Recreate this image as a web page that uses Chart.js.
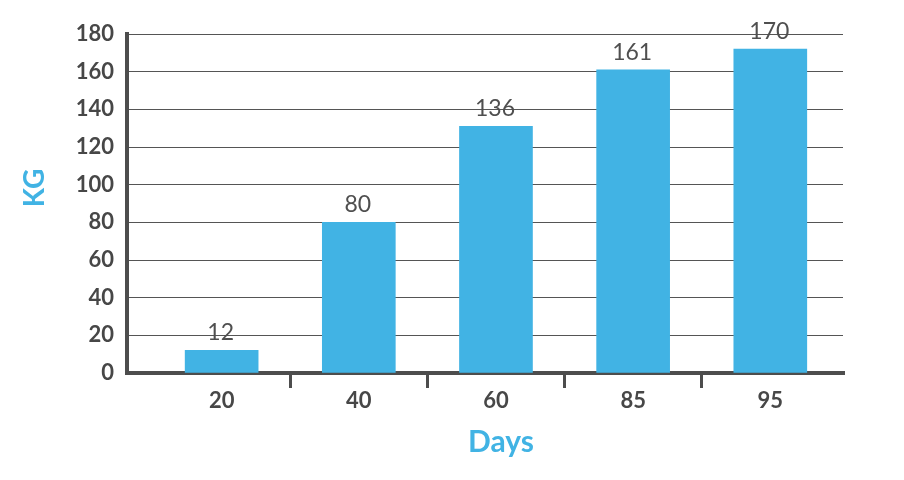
<!DOCTYPE html>
<html>
<head>
<meta charset="utf-8">
<title>KG by Days</title>
<script src="https://cdn.jsdelivr.net/npm/chart.js@4/dist/chart.umd.min.js"></script>
<style>
    body { margin: 0; background: #fff; }
    #chart-box { width: 904px; height: 480px; }
</style>
</head>
<body>
<div id="chart-box"><canvas id="kg-chart" width="904" height="480"></canvas></div>
<script>
// Data
const days = ['20', '40', '60', '85', '95'];
const barValues = [12, 80, 131, 161, 172];          // bar heights as drawn
const valueLabels = ['12', '80', '136', '161', '170']; // numbers printed above bars
const yTicks = [0, 20, 40, 60, 80, 100, 120, 140, 160, 180];

const BAR_BLUE = '#41b3e4';
const TEXT_DARK = '#474747';
const AXIS_DARK = '#4d4d4d';

// labels on top of bars (no datalabels plugin offline)
const barLabels = {
    id: 'barLabels',
    afterDatasetsDraw(chart) {
        const ctx = chart.ctx;
        const meta = chart.getDatasetMeta(0);
        ctx.save();
        ctx.fillStyle = '#4f4f4f';
        ctx.font = '400 23px Lato';
        ctx.textAlign = 'center';
        ctx.textBaseline = 'alphabetic';
        meta.data.forEach((bar, i) => {
            ctx.fillText(valueLabels[i], bar.x - 1, bar.y - 10);
        });
        ctx.restore();
    }
};

// axis titles, placed like the reference (not centred on the plot)
const axisTitles = {
    id: 'axisTitles',
    afterDraw(chart) {
        const { ctx, chartArea, scales } = chart;
        ctx.save();
        ctx.fillStyle = BAR_BLUE;
        ctx.textAlign = 'center';
        ctx.font = 'bold 30px Lato';
        ctx.textBaseline = 'alphabetic';
        ctx.fillText('Days', scales.x.getPixelForValue(2) + 5, chartArea.bottom + 79);

        ctx.translate(35, chartArea.top + 154);
        ctx.rotate(-Math.PI / 2);
        ctx.font = 'bold 28px Lato';
        ctx.textBaseline = 'middle';
        ctx.fillText('KG', 0, 0);
        ctx.restore();
    }
};

const points = barValues.map((v, i) => ({ x: i, y: v }));

new Chart(document.getElementById('kg-chart'), {
    type: 'bar',
    data: {
        datasets: [{
            data: points,
            backgroundColor: BAR_BLUE,
            barThickness: 73
        }]
    },
    plugins: [barLabels, axisTitles],
    options: {
        responsive: false,
        animation: false,
        devicePixelRatio: 1,
        layout: { padding: { top: 34, right: 61, left: 0, bottom: 0 } },
        plugins: {
            legend: { display: false },
            tooltip: { enabled: false }
        },
        scales: {
            x: {
                type: 'linear',
                min: -0.69,
                max: 4.53,
                offset: false,
                afterFit: (scale) => { scale.height = 107; },
                afterBuildTicks: (scale) => {
                    // category centres get labels, half steps get the little tick marks
                    const t = [];
                    days.forEach((d, i) => {
                        t.push({ value: i });
                        if (i < days.length - 1) t.push({ value: i + 0.5 });
                    });
                    scale.ticks = t;
                },
                ticks: {
                    autoSkip: false,
                    maxRotation: 0,
                    padding: 0,
                    color: TEXT_DARK,
                    font: { family: 'Lato', size: 22, weight: 'bold' },
                    callback: (val) => Number.isInteger(val) ? days[val] : ''
                },
                grid: {
                    offset: false,
                    drawOnChartArea: false,
                    tickLength: 15,
                    lineWidth: 3,
                    color: (ctx) => (ctx.tick && !Number.isInteger(ctx.tick.value)) ? AXIS_DARK : 'rgba(0,0,0,0)'
                },
                border: { display: true, width: 4, color: AXIS_DARK }
            },
            y: {
                min: 0,
                max: 180,
                afterFit: (scale) => { scale.width = 127; },
                afterBuildTicks: (scale) => {
                    scale.ticks = yTicks.map(v => ({ value: v }));
                },
                ticks: {
                    padding: 13,
                    color: TEXT_DARK,
                    font: { family: 'Lato', size: 22, weight: 'bold' }
                },
                grid: {
                    drawTicks: false,
                    color: '#555555',
                    lineWidth: 1
                },
                border: { display: true, width: 4, color: AXIS_DARK }
            }
        }
    }
});
</script>
</body>
</html>
